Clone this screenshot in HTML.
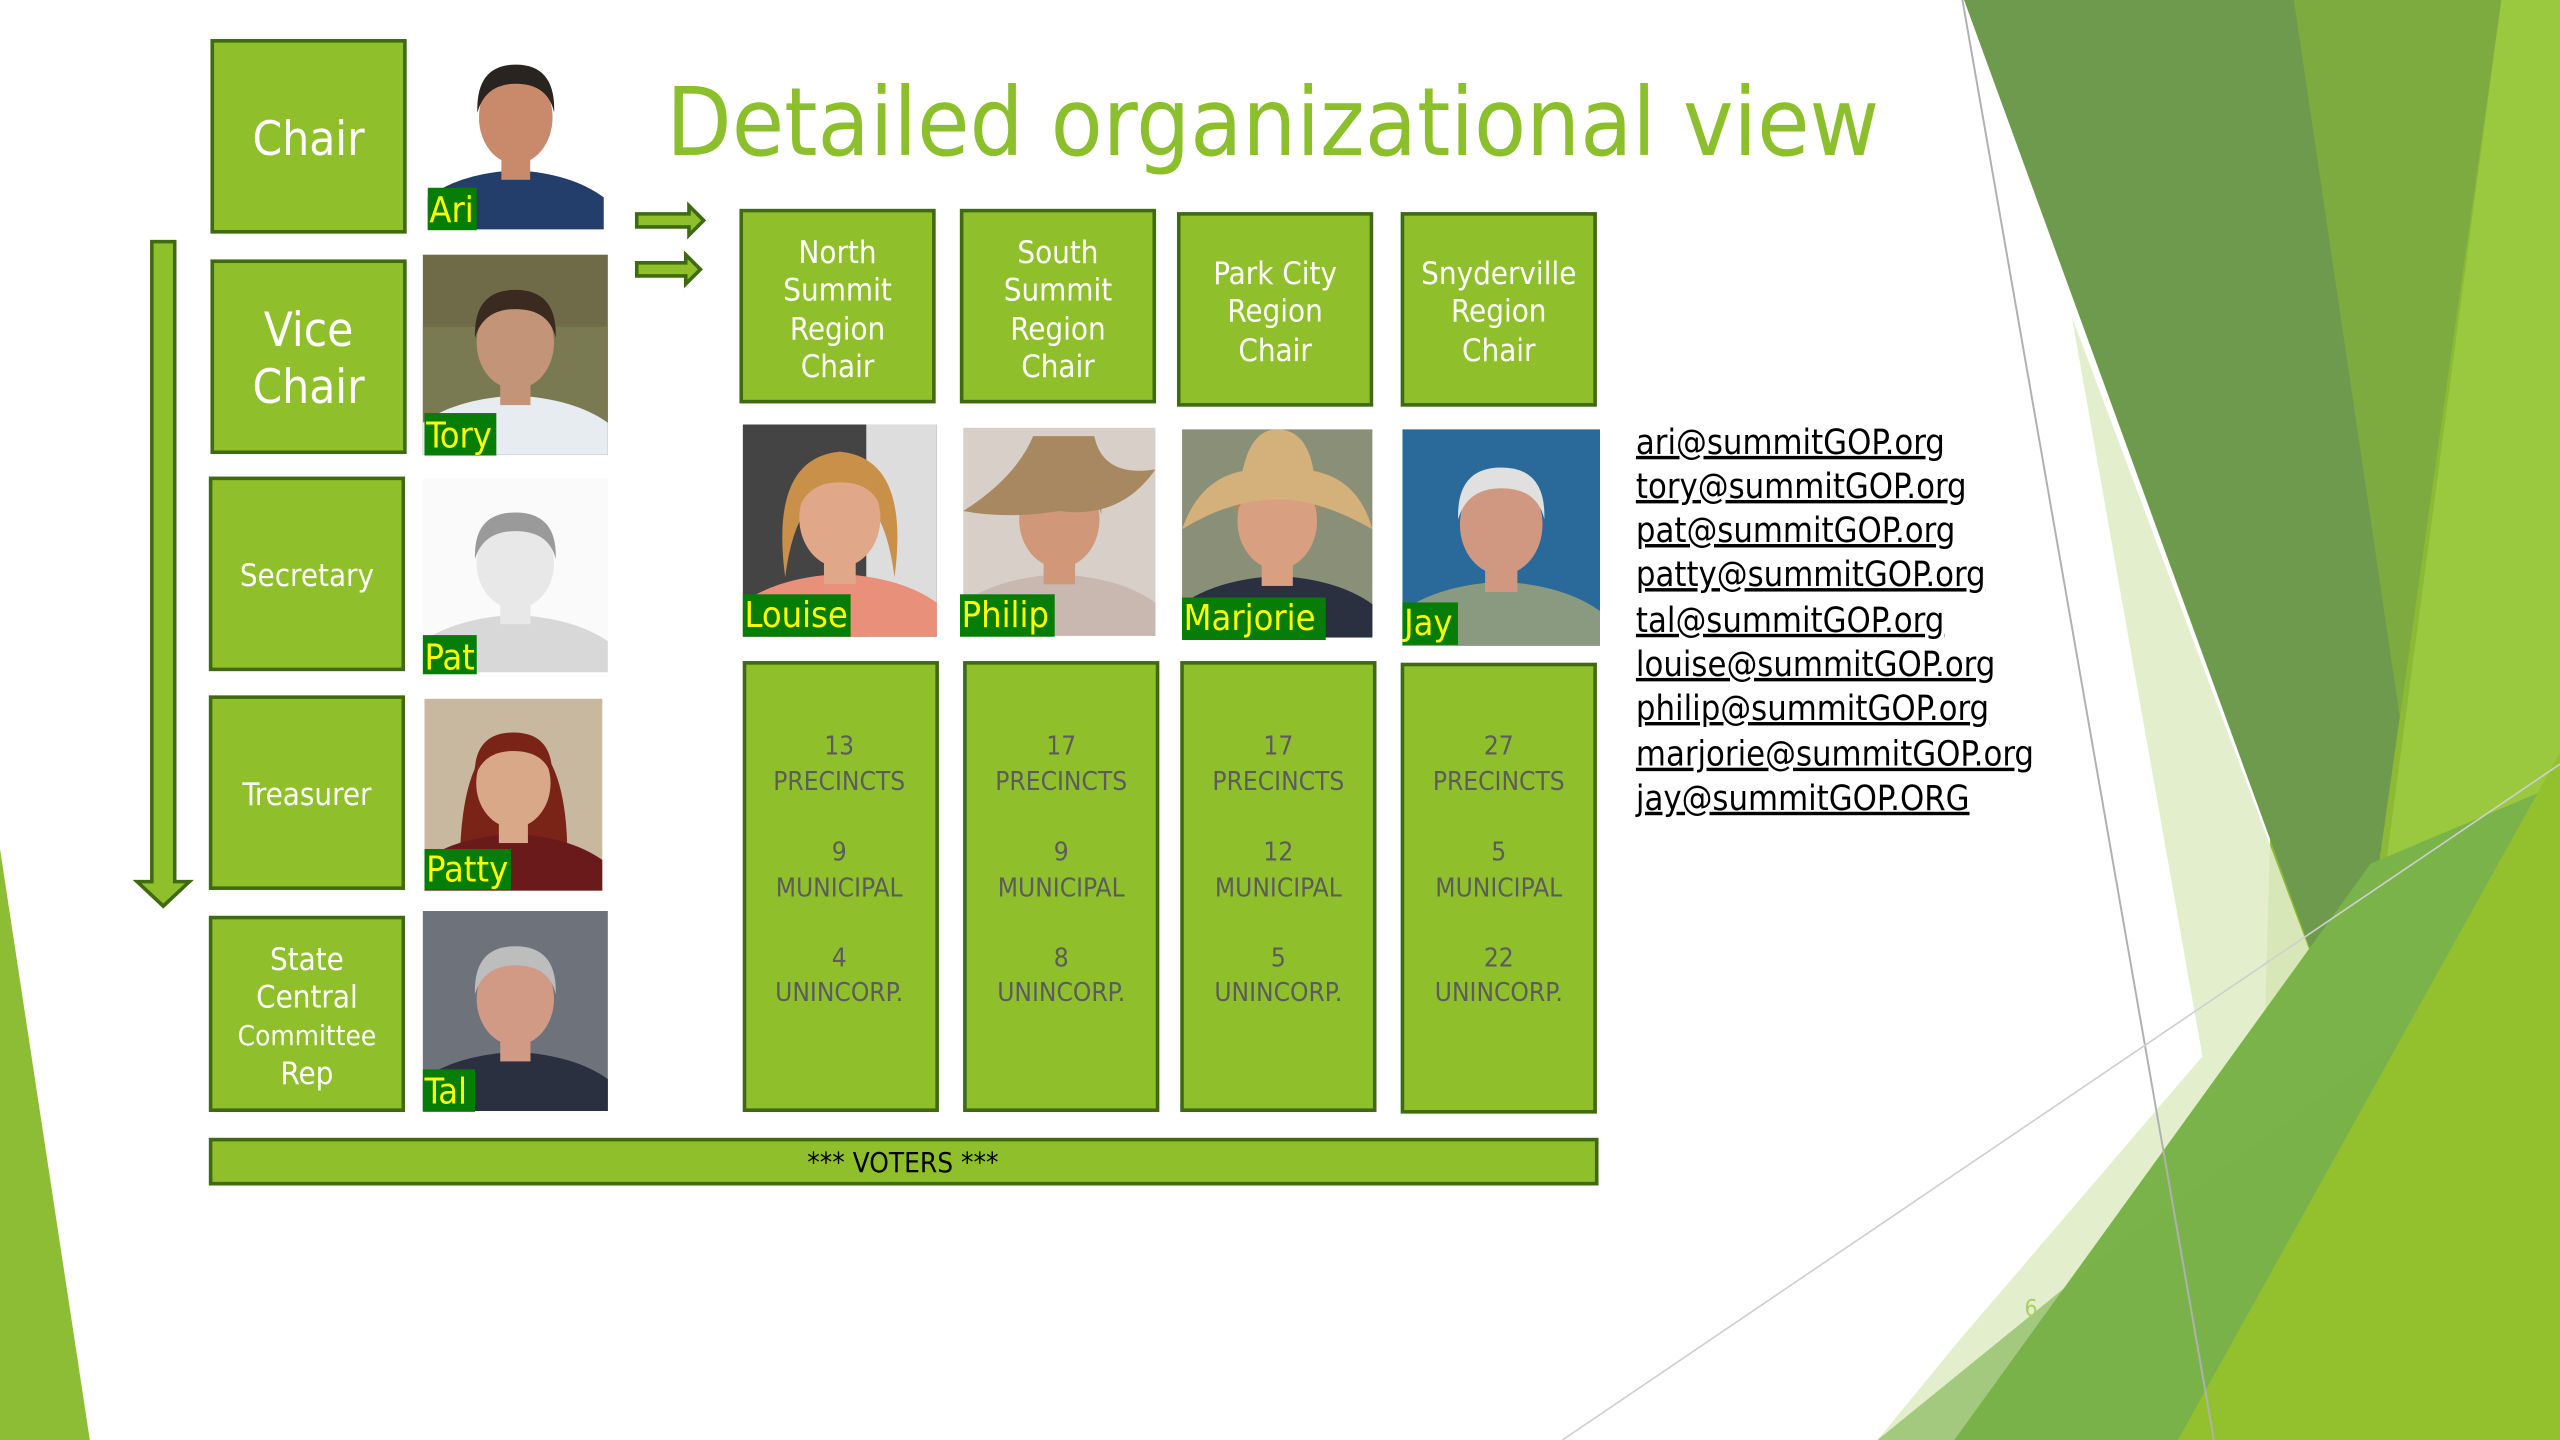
<!DOCTYPE html>
<html><head><meta charset="utf-8"><style>
html,body{margin:0;padding:0;background:#fff;}
svg{display:block;}
text{font-family:"DejaVu Sans Condensed","Liberation Sans",sans-serif;}
</style></head><body>
<svg width="2560" height="1440" viewBox="0 0 1568 882" xmlns="http://www.w3.org/2000/svg">
<defs>
<g id="face">
  <path d="M0,125 L0,105 Q20,90 55,88 Q90,90 110,105 L110,125 Z" fill="var(--shirt)"/>
  <rect x="46" y="72" width="18" height="22" fill="var(--skin)"/>
  <ellipse cx="55" cy="55" rx="23" ry="29" fill="var(--skin)"/>
  <path d="M31,52 Q30,22 55,22 Q80,22 79,52 Q75,34 55,34 Q36,34 31,52 Z" fill="var(--hair)"/>
</g>
</defs>
<rect width="1568" height="882" fill="#fff"/>
<!-- background shapes -->
<polygon points="1405,0 1568,0 1568,882 1380,882" fill="#8cba34"/>
<polygon points="1532,0 1568,0 1568,690 1440,690" fill="#9ac83f"/>
<polygon points="1269,194 1349,647 1200,821 1150,882 1400,882 1440,650" fill="#dfecc6" opacity="0.9"/>
<polygon points="1203,0 1532,0 1440,650" fill="#6e9a4e"/>
<polygon points="1405,0 1532,0 1470,440" fill="#85b23a" opacity="0.7"/>
<polygon points="1197,882 1452,529 1568,480 1568,882" fill="#7ab34a"/>
<polygon points="1150,882 1300,760 1452,650 1568,560 1568,882" fill="#78b04a" opacity="0.6"/>
<polygon points="1334,882 1568,461 1568,882" fill="#93c12e"/>
<polygon points="0,520 55,882 0,882" fill="#8cbd35"/>
<line x1="1202" y1="0" x2="1356" y2="882" stroke="#b0b0b0" stroke-width="1.2"/>
<line x1="957" y1="882" x2="1568" y2="468" stroke="#cfcfcf" stroke-width="1"/>
<text x="1240" y="806" font-size="14" fill="#a9d060">6</text>

<!-- title -->
<text x="408" y="95" font-size="58" fill="#8cbf2c">Detailed organizational view</text>

<g fill="#8fc02b" stroke="#3f6a12" stroke-width="2.2">
<rect x="130" y="25" width="118" height="117"/>
<rect x="130" y="160" width="118" height="117"/>
<rect x="129" y="293" width="118" height="117"/>
<rect x="129" y="427" width="118" height="117"/>
<rect x="129" y="562" width="118" height="118"/>
<rect x="454" y="129" width="118" height="117"/>
<rect x="589" y="129" width="118" height="117"/>
<rect x="722" y="131" width="118" height="117"/>
<rect x="859" y="131" width="118" height="117"/>
<rect x="456" y="406" width="118" height="274"/>
<rect x="591" y="406" width="118" height="274"/>
<rect x="724" y="406" width="118" height="274"/>
<rect x="859" y="407" width="118" height="274"/>
<rect x="129" y="698" width="849" height="27"/>
<!-- arrows -->
<polygon points="93,148 107,148 107,540 116,540 100,555 84,540 93,540"/>
<polygon points="390,131 422,131 422,126 431,135 422,144 422,139 390,139"/>
<polygon points="390,161 420,161 420,156 429,165 420,174 420,169 390,169"/>
</g>

<g fill="#fff" text-anchor="middle">
<text x="189" y="95" font-size="29">Chair</text>
<text x="189" y="212" font-size="29">Vice</text>
<text x="189" y="247" font-size="29">Chair</text>
<text x="188" y="359" font-size="19">Secretary</text>
<text x="188" y="493" font-size="19">Treasurer</text>
<text x="188" y="594" font-size="19">State</text>
<text x="188" y="617" font-size="19">Central</text>
<text x="188" y="640" font-size="17">Committee</text>
<text x="188" y="664" font-size="19">Rep</text>
<g font-size="19">
<text x="513" y="161">North</text><text x="513" y="184">Summit</text><text x="513" y="208">Region</text><text x="513" y="231">Chair</text>
<text x="648" y="161">South</text><text x="648" y="184">Summit</text><text x="648" y="208">Region</text><text x="648" y="231">Chair</text>
<text x="781" y="174">Park City</text><text x="781" y="197">Region</text><text x="781" y="221">Chair</text>
<text x="918" y="174">Snyderville</text><text x="918" y="197">Region</text><text x="918" y="221">Chair</text>
</g>
</g>

<g fill="#5c5c5c" text-anchor="middle" font-size="16">
<text x="514" y="462">13</text><text x="514" y="484">PRECINCTS</text><text x="514" y="527">9</text><text x="514" y="549">MUNICIPAL</text><text x="514" y="592">4</text><text x="514" y="613">UNINCORP.</text>
<text x="650" y="462">17</text><text x="650" y="484">PRECINCTS</text><text x="650" y="527">9</text><text x="650" y="549">MUNICIPAL</text><text x="650" y="592">8</text><text x="650" y="613">UNINCORP.</text>
<text x="783" y="462">17</text><text x="783" y="484">PRECINCTS</text><text x="783" y="527">12</text><text x="783" y="549">MUNICIPAL</text><text x="783" y="592">5</text><text x="783" y="613">UNINCORP.</text>
<text x="918" y="462">27</text><text x="918" y="484">PRECINCTS</text><text x="918" y="527">5</text><text x="918" y="549">MUNICIPAL</text><text x="918" y="592">22</text><text x="918" y="613">UNINCORP.</text>
</g>
<text x="553" y="718" font-size="17" text-anchor="middle" fill="#000">*** VOTERS ***</text>

<!-- photos -->
<g transform="translate(262,18) scale(0.98,0.98)" style="--shirt:#233e6a;--skin:#c98a6c;--hair:#2a2420"><rect width="110" height="125" fill="#fff"/><use href="#face"/></g>
<g transform="translate(259,156) scale(1.03,0.98)" style="--shirt:#e6ecef;--skin:#c49478;--hair:#3a2a20"><rect width="110" height="125" fill="#6f6a48"/><rect y="45" width="110" height="80" fill="#7a7a52"/><use href="#face"/></g>
<g transform="translate(259,293) scale(1.03,0.95)" style="--shirt:#d8d8d8;--skin:#e8e8e8;--hair:#9a9a9a"><rect width="110" height="125" fill="#fafafa"/><use href="#face"/></g>
<g transform="translate(260,428) scale(0.99,0.94)" style="--shirt:#6a1a1a;--skin:#d8a888;--hair:#7a2418"><rect width="110" height="125" fill="#c8b8a0"/><path d="M22,120 Q20,30 55,22 Q92,30 88,120 Z" fill="#7a2418"/><use href="#face"/></g>
<g transform="translate(259,558) scale(1.03,0.98)" style="--shirt:#2a3040;--skin:#d09a84;--hair:#bdbdbd"><rect width="110" height="125" fill="#6e727a"/><use href="#face"/></g>
<g transform="translate(455,260) scale(1.08,1.04)" style="--shirt:#e8907a;--skin:#e0a888;--hair:#c89048"><rect width="110" height="125" fill="#444"/><rect x="70" width="40" height="125" fill="#ddd"/><path d="M24,90 Q15,20 55,16 Q95,20 86,90 Q80,40 55,38 Q30,40 24,90 Z" fill="#c89048"/><use href="#face"/></g>
<g transform="translate(590,262) scale(1.07,1.02)" style="--shirt:#c8b8b0;--skin:#d09878;--hair:#a08058"><rect width="110" height="125" fill="#d8cfc8"/><use href="#face"/><path d="M0,50 Q30,30 40,5 L75,5 Q80,30 110,25 Q90,55 55,50 Q25,55 0,50 Z" fill="#a88860"/></g>
<g transform="translate(724,263) scale(1.06,1.02)" style="--shirt:#2a3040;--skin:#d8a080;--hair:#b08858"><rect width="110" height="125" fill="#8a9078"/><use href="#face"/><path d="M0,60 Q10,30 35,25 Q40,0 55,0 Q72,0 76,25 Q102,30 110,60 Q80,42 55,42 Q28,42 0,60 Z" fill="#d4b07a"/></g>
<g transform="translate(859,263) scale(1.1,1.06)" style="--shirt:#8a9a80;--skin:#d09880;--hair:#e0e0e0"><rect width="110" height="125" fill="#2a6a9a"/><use href="#face"/></g>

<!-- name labels -->
<g font-size="22" fill="#ffff00">
<rect x="262" y="115" width="30" height="26" fill="#067d06"/><text x="263" y="136">Ari</text>
<rect x="260" y="253" width="44" height="26" fill="#067d06"/><text x="261" y="274">Tory</text>
<rect x="259" y="389" width="33" height="24" fill="#067d06"/><text x="260" y="410">Pat</text>
<rect x="260" y="520" width="53" height="25" fill="#067d06"/><text x="261" y="540">Patty</text>
<rect x="259" y="655" width="32" height="26" fill="#067d06"/><text x="260" y="676">Tal</text>
<rect x="455" y="364" width="66" height="26" fill="#067d06"/><text x="456" y="384">Louise</text>
<rect x="588" y="364" width="58" height="26" fill="#067d06"/><text x="589" y="384">Philip</text>
<rect x="724" y="366" width="88" height="26" fill="#067d06"/><text x="725" y="386">Marjorie</text>
<rect x="859" y="369" width="34" height="26" fill="#067d06"/><text x="860" y="389">Jay</text>
</g>

<!-- emails -->
<g font-size="21" fill="#000" text-decoration="underline">
<text x="1002" y="278">ari@summitGOP.org</text>
<text x="1002" y="305">tory@summitGOP.org</text>
<text x="1002" y="332">pat@summitGOP.org</text>
<text x="1002" y="359">patty@summitGOP.org</text>
<text x="1002" y="387">tal@summitGOP.org</text>
<text x="1002" y="414">louise@summitGOP.org</text>
<text x="1002" y="441">philip@summitGOP.org</text>
<text x="1002" y="469">marjorie@summitGOP.org</text>
<text x="1002" y="496">jay@summitGOP.ORG</text>
</g>
</svg>
</body></html>
